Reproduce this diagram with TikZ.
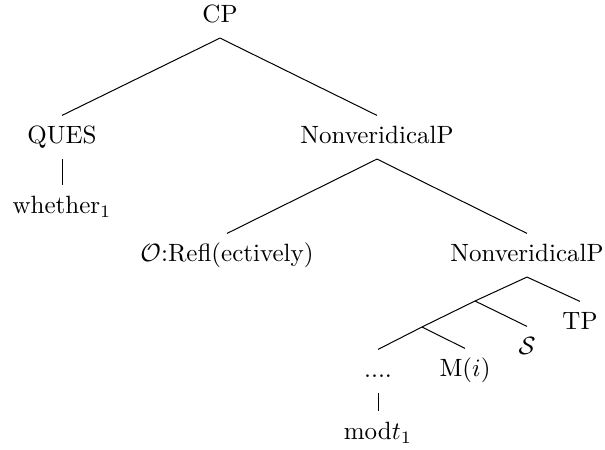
\documentclass[tikz,border=0pt]{standalone}
\usepackage{amsmath,amsfonts,amssymb}
\usepackage{tikz}

\begin{document}
\begin{tikzpicture}[x=0.4pt,y=-0.4pt,
    main node/.style={anchor=base,inner sep=3.33pt,text height=7.9pt,text depth=2.5pt}]
    \useasboundingbox (0,0) rectangle (605,450);
    \node[main node] (1) at (220,23) {CP};
    \node[main node] (2) at (62,144) {QUES};
    \node[main node] (3) at (377,144) {NonveridicalP};
    \node[main node] (4) at (62,214) {whether$_1$};
    \node[main node] (5) at (227,262) {$\mathcal{O}$:Refl(ectively)};
    \node[main node] (6) at (527,262) {NonveridicalP};
    \coordinate (7) at (475,301);
    \node[main node] (8) at (580,330) {TP};
    \coordinate (9) at (422,327);
    \node[main node] (10) at (527,355) {$\mathcal{S}$};
    \node[main node] (11) at (378,378) {....};
    \node[main node] (12) at (465,377) {M$(i)$};
    \node[main node] (13) at (378,440) {mod$t_1$};

    \path
    (1.south) edge (2.north)
    (1.south) edge (3.north)
    (2.south) edge (4.north)
    (3.south) edge (5.north)
    (3.south) edge (6.north)
    (6.south) edge (7)
    (6.south) edge (8.north)
    (7) edge (9)
    (7) edge (10.north)
    (9) edge (11.north)
    (9) edge (12.north)
    (11.south) edge (13.north);
\end{tikzpicture}
\end{document}
